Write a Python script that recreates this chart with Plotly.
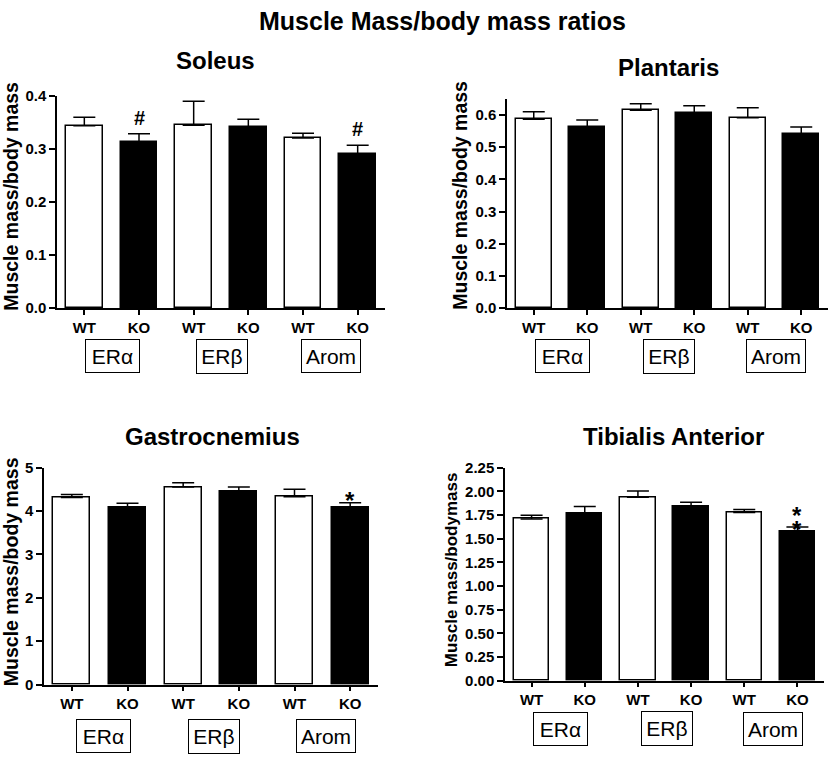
import plotly.graph_objects as go

# ---------------- data ----------------
categories = ["WT", "KO", "WT", "KO", "WT", "KO"]
groups = ["ERα", "ERβ", "Arom"]
genotype_fill = ["white", "black", "white", "black", "white", "black"]

soleus_mean = [0.344, 0.314, 0.345, 0.341, 0.321, 0.291]
soleus_sem = [0.016, 0.015, 0.045, 0.015, 0.009, 0.016]

plantaris_mean = [0.587, 0.564, 0.615, 0.605, 0.592, 0.542]
plantaris_sem = [0.023, 0.021, 0.020, 0.024, 0.031, 0.021]

gastro_mean = [4.31, 4.09, 4.55, 4.44, 4.33, 4.08]
gastro_sem = [0.07, 0.09, 0.10, 0.11, 0.17, 0.11]

tibialis_mean = [1.708, 1.767, 1.936, 1.843, 1.777, 1.574]
tibialis_sem = [0.038, 0.073, 0.066, 0.041, 0.031, 0.048]

panel_titles = ["Soleus", "Plantaris", "Gastrocnemius", "Tibialis Anterior"]
ylabels = ["Muscle mass/body mass", "Muscle mass/body mass",
           "Muscle mass/body mass", "Muscle mass/bodymass"]
# significance markers: (category index, symbol)
soleus_sig = [(1, "#"), (5, "#")]
plantaris_sig = []
gastro_sig = [(5, "*")]
tibialis_sig = [(5, "*"), (5, "*")]

# ---------------- layout helpers ----------------
W, H = 832, 765
FONT = "Liberation Sans, Arial, sans-serif"


def px_x(x):
    return x / W


def px_y(y):
    return 1 - y / H


panels = [
    dict(mean=soleus_mean, sem=soleus_sem, sig=soleus_sig,
         xd=(57, 385), yd=(306, 89), yr=(0, 0.4), dtick=0.1, fmt=".1f",
         title_xy=(215, 53), ylab_xy=(11, 192), ylab_size=19.5, box_y=355,
         box_dx=0.02, sig_shift=[3, 3]),
    dict(mean=plantaris_mean, sem=plantaris_sem, sig=plantaris_sig,
         xd=(507, 828), yd=(306, 92), yr=(0, 0.65), dtick=0.1, fmt=".1f",
         title_xy=(668, 60), ylab_xy=(460, 191), ylab_size=19.5, box_y=355,
         box_dx=0.03, sig_shift=[]),
    dict(mean=gastro_mean, sem=gastro_sem, sig=gastro_sig,
         xd=(44, 378), yd=(691, 469), yr=(0, 5), dtick=1, fmt="d",
         title_xy=(213, 437), ylab_xy=(11, 576), ylab_size=19.5, box_y=744,
         box_dx=0.06, sig_shift=[-13]),
    dict(mean=tibialis_mean, sem=tibialis_sem, sig=tibialis_sig,
         xd=(505, 824), yd=(687, 469), yr=(0, 2.25), dtick=0.25, fmt=".2f",
         title_xy=(673, 437), ylab_xy=(451, 574), ylab_size=17, box_y=736,
         box_dx=0.05, sig_shift=[-4, -18]),
]
box_sizes = {"ERα": (53, 32), "ERβ": (50, 33), "Arom": (58, 32)}

fig = go.Figure()
annotations = []
xpos = list(range(len(categories)))

for i, p in enumerate(panels):
    n = "" if i == 0 else str(i + 1)
    xa, ya = "x" + n, "y" + n
    err_plus = p["sem"]
    fig.add_trace(go.Bar(
        x=xpos, y=p["mean"], xaxis=xa, yaxis=ya,
        width=0.667,
        marker=dict(color=genotype_fill, line=dict(color="black", width=1.5)),
        error_y=dict(type="data", symmetric=False, array=err_plus,
                     arrayminus=[0] * len(err_plus),
                     color="black", thickness=1.5, width=11),
        cliponaxis=False, showlegend=False, hoverinfo="skip",
    ))
    axis_common = dict(showgrid=False, zeroline=False, showline=True,
                       linecolor="black", linewidth=1.5, ticks="outside",
                       ticklen=6, tickwidth=1.5, tickcolor="black",
                       tickfont=dict(family=FONT, size=15, color="black", weight="bold"))
    fig.update_layout(**{
        ("xaxis" + n): dict(axis_common,
                            domain=[px_x(p["xd"][0]), px_x(p["xd"][1])],
                            range=[-0.5, len(categories) - 0.5],
                            tickvals=xpos, ticktext=categories, ticklen=5,
                            anchor=ya, fixedrange=True),
        ("yaxis" + n): dict(axis_common,
                            domain=[px_y(p["yd"][0]), px_y(p["yd"][1])],
                            range=list(p["yr"]), dtick=p["dtick"], tick0=0,
                            tickformat=p["fmt"], anchor=xa, fixedrange=True),
    })
    # panel title
    annotations.append(dict(text=panel_titles[i], xref="paper", yref="paper",
                            x=px_x(p["title_xy"][0]), y=px_y(p["title_xy"][1]),
                            xanchor="center", yanchor="middle", showarrow=False,
                            font=dict(family=FONT, size=24, color="black", weight="bold")))
    # y-axis label
    annotations.append(dict(text=ylabels[i], xref="paper", yref="paper",
                            x=px_x(p["ylab_xy"][0]), y=px_y(p["ylab_xy"][1]),
                            xanchor="center", yanchor="middle", textangle=-90,
                            showarrow=False,
                            font=dict(family=FONT, size=p["ylab_size"], color="black",
                                      weight="bold")))
    # group boxes
    for g, name in enumerate(groups):
        gx = (xpos[2 * g] + xpos[2 * g + 1]) / 2 + p["box_dx"]
        bw, bh = box_sizes[name]
        annotations.append(dict(text=name, xref=xa, yref="paper", x=gx,
                                y=px_y(p["box_y"]), xanchor="center", yanchor="middle",
                                showarrow=False, bordercolor="black", borderwidth=1,
                                borderpad=0, width=bw, height=bh, align="center",
                                valign="middle",
                                font=dict(family=FONT, size=21, color="black")))
    # significance markers
    for k, (ci, sym) in enumerate(p["sig"]):
        top = p["mean"][ci] + p["sem"][ci]
        is_hash = sym == "#"
        annotations.append(dict(text=sym, xref=xa, yref=ya, x=xpos[ci], y=top,
                                xanchor="center", yanchor="bottom", showarrow=False,
                                yshift=p["sig_shift"][k],
                                font=dict(family=FONT, size=20 if is_hash else 24,
                                          color="black", weight="bold")))

annotations.append(dict(text="Muscle Mass/body mass ratios", xref="paper", yref="paper",
                        x=px_x(442), y=px_y(12), xanchor="center", yanchor="middle",
                        showarrow=False,
                        font=dict(family=FONT, size=25, color="black", weight="bold")))

fig.update_layout(width=W, height=H, margin=dict(l=0, r=0, t=0, b=0),
                  paper_bgcolor="white", plot_bgcolor="white",
                  annotations=annotations, bargap=0)

fig.write_html("out.html", config={"displayModeBar": False},
               post_script="document.body.style.margin='0';document.body.style.padding='0';"
                           "document.body.style.overflow='hidden';")
